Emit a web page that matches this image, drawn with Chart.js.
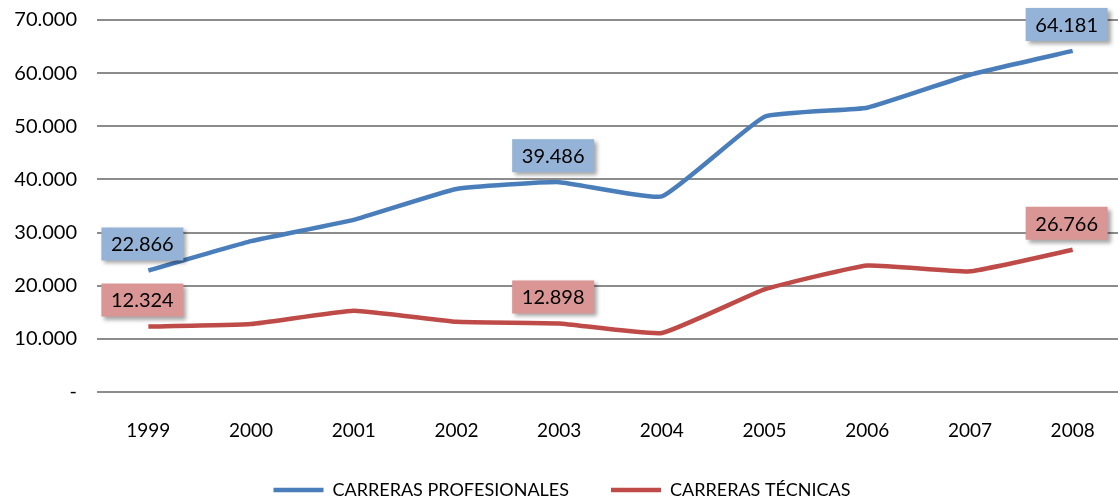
<!DOCTYPE html>
<html>
<head>
<meta charset="utf-8">
<script src="https://cdn.jsdelivr.net/npm/chart.js@4"></script>
<style>
  html, body { margin: 0; padding: 0; background: #fff; overflow: hidden; }
  #wrap { width: 1124px; height: 501px; }
</style>
</head>
<body>
<div id="wrap"><canvas id="careersChart"></canvas></div>
<script>
const years = ['1999', '2000', '2001', '2002', '2003', '2004', '2005', '2006', '2007', '2008'];
const profesionales = [22866, 28400, 32400, 38200, 39486, 36800, 51800, 53500, 59700, 64181];
const tecnicas = [12324, 12800, 15300, 13200, 12898, 11100, 19300, 23800, 22700, 26766];
const labelledIdx = [0, 4, 9];
const yTicks = [0, 10000, 20000, 30000, 40000, 50000, 60000, 70000];

const FONT = 'Lato, "Open Sans", sans-serif';

function fmt(v) {
  if (v === 0) return '-';
  return String(v).replace(/\B(?=(\d{3})+(?!\d))/g, '.');
}

// boxed value labels like the spreadsheet callouts
const boxLabels = {
  id: 'boxLabels',
  afterDatasetsDraw(chart) {
    const ctx = chart.ctx;
    chart.data.datasets.forEach((ds, di) => {
      const meta = chart.getDatasetMeta(di);
      labelledIdx.forEach(i => {
        const p = meta.data[i];
        const w = 82, h = 33;
        const cx = p.x - 6;
        const bottom = p.y - 10;
        ctx.save();
        ctx.shadowColor = 'rgba(0,0,0,0.35)';
        ctx.shadowBlur = 4;
        ctx.shadowOffsetX = 3;
        ctx.shadowOffsetY = 3;
        ctx.fillStyle = ds.boxColor;
        ctx.fillRect(cx - w / 2, bottom - h, w, h);
        ctx.restore();
        ctx.save();
        ctx.fillStyle = '#000';
        ctx.font = '20px ' + FONT;
        ctx.textAlign = 'center';
        ctx.textBaseline = 'middle';
        ctx.fillText(fmt(ds.data[i]), cx, bottom - h / 2 + 1);
        ctx.restore();
      });
    });
  }
};

const ctx = document.getElementById('careersChart').getContext('2d');
new Chart(ctx, {
  type: 'line',
  data: {
    labels: years,
    datasets: [{
      label: 'CARRERAS PROFESIONALES',
      data: profesionales,
      borderColor: '#4A7EBB',
      backgroundColor: '#4A7EBB',
      boxColor: '#95B3D7',
      borderWidth: 4.5,
      pointRadius: 0,
      tension: 0.12
    }, {
      label: 'CARRERAS TÉCNICAS',
      data: tecnicas,
      borderColor: '#BE4B48',
      backgroundColor: '#BE4B48',
      boxColor: '#D99694',
      borderWidth: 4.5,
      pointRadius: 0,
      tension: 0.12
    }]
  },
  options: {
    responsive: true,
    maintainAspectRatio: false,
    animation: false,
    layout: { padding: { top: 20, right: 0, bottom: -8, left: 0 } },
    plugins: {
      legend: {
        position: 'bottom',
        labels: {
          usePointStyle: true,
          pointStyle: 'line',
          pointStyleWidth: 50,
          padding: 42,
          color: '#000',
          font: { family: FONT, size: 18 }
        }
      },
      tooltip: { enabled: false }
    },
    scales: {
      x: {
        offset: true,
        grid: { display: false },
        border: { display: false },
        ticks: { color: '#000', padding: 19, font: { family: FONT, size: 19 } },
        afterFit: scale => { scale.height = 47; }
      },
      y: {
        min: 0,
        max: 70000,
        afterBuildTicks: scale => { scale.ticks = yTicks.map(v => ({ value: v })); },
        grid: { color: '#8C8C8C', lineWidth: 2, drawTicks: false },
        border: { display: false },
        ticks: {
          color: '#000',
          padding: 20,
          font: { family: FONT, size: 20 },
          callback: v => fmt(v)
        },
        afterFit: scale => {
          scale.width = 97;
          scale.paddingTop = 0;
          scale.paddingBottom = 0;
        }
      }
    }
  },
  plugins: [boxLabels]
});
</script>
</body>
</html>
